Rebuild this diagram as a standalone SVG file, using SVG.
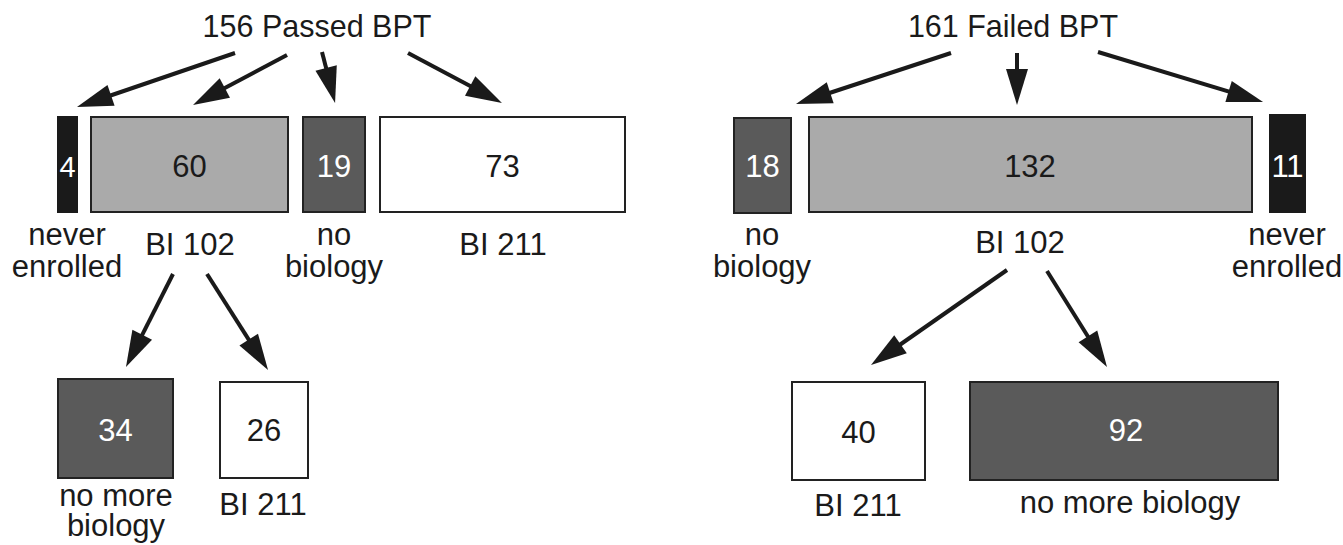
<svg xmlns="http://www.w3.org/2000/svg" width="1343" height="545" viewBox="0 0 1343 545">
<style>
text{font-family:"Liberation Sans",Arial,sans-serif;font-size:31px;fill:#1a1a1a;text-anchor:middle}
text.t{font-size:30.5px}
text.w{fill:#ffffff}
.blk{fill:#1a1a1a;stroke:#1a1a1a;stroke-width:2}
.dk{fill:#5a5a5a;stroke:#222;stroke-width:2}
.lt{fill:#aaaaaa;stroke:#222;stroke-width:2}
.wh{fill:#ffffff;stroke:#222;stroke-width:2}
.ar{stroke:#1a1a1a;stroke-width:4;fill:none;marker-end:url(#ah)}
</style>
<defs>
<marker id="ah" markerUnits="userSpaceOnUse" markerWidth="38" markerHeight="24" refX="16" refY="11" orient="auto" overflow="visible">
<path d="M0,0 L36,11 L0,22 Z" fill="#1a1a1a"/>
</marker>
</defs>
<g id="connectors">
<line class="ar" x1="235" y1="53" x2="95.9" y2="100.5"/>
<line class="ar" x1="287" y1="55" x2="210.7" y2="95.6"/>
<line class="ar" x1="322" y1="52" x2="330.1" y2="83.6"/>
<line class="ar" x1="408" y1="53" x2="484.3" y2="93.6"/>
<line class="ar" x1="951" y1="53" x2="815" y2="97.75"/>
<line class="ar" x1="1017" y1="53" x2="1017" y2="85"/>
<line class="ar" x1="1098" y1="52" x2="1243.9" y2="96.2"/>
<line class="ar" x1="173" y1="274" x2="135" y2="349.1"/>
<line class="ar" x1="207" y1="274" x2="257.3" y2="353.1"/>
<line class="ar" x1="1007" y1="270" x2="887.4" y2="353.5"/>
<line class="ar" x1="1047" y1="271" x2="1096.4" y2="350"/>
</g>
<g id="passed"><text class="t" x="317" y="37">156 Passed BPT</text></g>
<g id="failed"><text class="t" x="1013" y="37">161 Failed BPT</text></g>
<g id="p-never"><rect class="blk" x="58" y="117" width="19" height="95"/><text class="w" x="67.5" y="177" style="font-size:29px">4</text><text x="67" y="245">never</text><text x="67" y="277">enrolled</text></g>
<g id="p-bi102"><rect class="lt" x="91" y="117" width="197" height="95"/><text x="189.5" y="177">60</text><text x="190" y="255">BI 102</text></g>
<g id="p-nobio"><rect class="dk" x="303" y="117" width="62" height="95"/><text class="w" x="334" y="177">19</text><text x="334" y="245">no</text><text x="334" y="277">biology</text></g>
<g id="p-bi211"><rect class="wh" x="380" y="117" width="245" height="95"/><text x="502.5" y="177">73</text><text x="503" y="255">BI 211</text></g>
<g id="p-nomore"><rect class="dk" x="58" y="379" width="115" height="99"/><text class="w" x="115.5" y="441">34</text><text x="116" y="506">no more</text><text x="116" y="536">biology</text></g>
<g id="p-bi211b"><rect class="wh" x="220" y="382" width="88" height="96"/><text x="264" y="441">26</text><text x="263" y="515">BI 211</text></g>
<g id="f-nobio"><rect class="dk" x="734" y="118" width="57" height="95"/><text class="w" x="762.5" y="177">18</text><text x="762" y="245">no</text><text x="762" y="277">biology</text></g>
<g id="f-bi102"><rect class="lt" x="809" y="117" width="443" height="95"/><text x="1030" y="177">132</text><text x="1020" y="253">BI 102</text></g>
<g id="f-never"><rect class="blk" x="1270" y="115" width="35" height="97"/><text class="w" x="1287.5" y="177">11</text><text x="1287" y="245">never</text><text x="1287" y="277">enrolled</text></g>
<g id="f-bi211"><rect class="wh" x="792" y="382" width="133" height="98"/><text x="858.5" y="443">40</text><text x="858" y="516">BI 211</text></g>
<g id="f-nomore"><rect class="dk" x="970" y="382" width="308" height="98"/><text class="w" x="1126" y="441">92</text><text x="1130" y="513">no more biology</text></g>
</svg>
